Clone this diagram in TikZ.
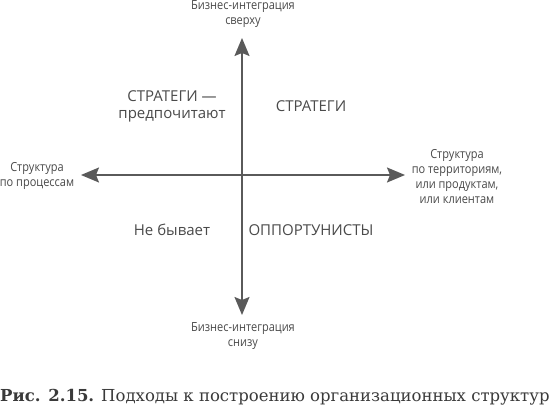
\documentclass[tikz,border=0pt]{standalone}
\usepackage{fontspec}
\setmainfont{DejaVu Serif}
\newfontfamily\labfont{Open Sans}
\newfontfamily\condfont{Open Sans}[FakeStretch=0.88]
\usetikzlibrary{arrows.meta}
\definecolor{axisgray}{HTML}{5A5A5A}
\definecolor{textgray}{HTML}{4A4A4A}
\definecolor{capgray}{HTML}{3A3A3A}
\begin{document}
\begin{tikzpicture}[x=1pt,y=-1pt,
  axis/.style={draw=axisgray, line width=1.5pt, {Stealth[length=18pt,width=15pt,inset=3pt]}-{Stealth[length=18pt,width=15pt,inset=3pt]}},
  biglab/.style={text=textgray, font=\labfont\fontsize{15}{17}\selectfont, inner sep=0pt, align=center},
  smalllab/.style={text=textgray, font=\condfont\fontsize{12.5}{14.7}\selectfont, inner sep=0pt, align=center},
  caption/.style={text=capgray, font=\fontsize{16.5}{19}\selectfont, inner sep=0pt, anchor=base west}]
\useasboundingbox (0,0) rectangle (550,413);
\fill[white] (0,0) rectangle (550,413);
\coordinate (T) at (242,38);
\coordinate (B) at (242,315);
\coordinate (L) at (81,175);
\coordinate (R) at (405,175);
\draw[axis] (B) -- (T);
\draw[axis] (L) -- (R);
\node[smalllab] (top) at (243,14) {Бизнес-интеграция\\сверху};
\node[smalllab] (bot) at (243,336) {Бизнес-интеграция\\снизу};
\node[smalllab] (left) at (37,176) {Структура\\по процессам};
\node[smalllab] (right) at (457,176.5) {Структура\\по территориям,\\или продуктам,\\или клиентам};
\node[biglab] (q2) at (172,106) {СТРАТЕГИ —\\предпочитают};
\node[biglab] (q1) at (311,106) {СТРАТЕГИ};
\node[biglab] (q3) at (172,230) {Не бывает};
\node[biglab] (q4) at (311,230) {ОППОРТУНИСТЫ};
\node[caption] (cap) at (0,401) {\textbf{Рис. 2.15.} Подходы к построению организационных структур};
\end{tikzpicture}
\end{document}
